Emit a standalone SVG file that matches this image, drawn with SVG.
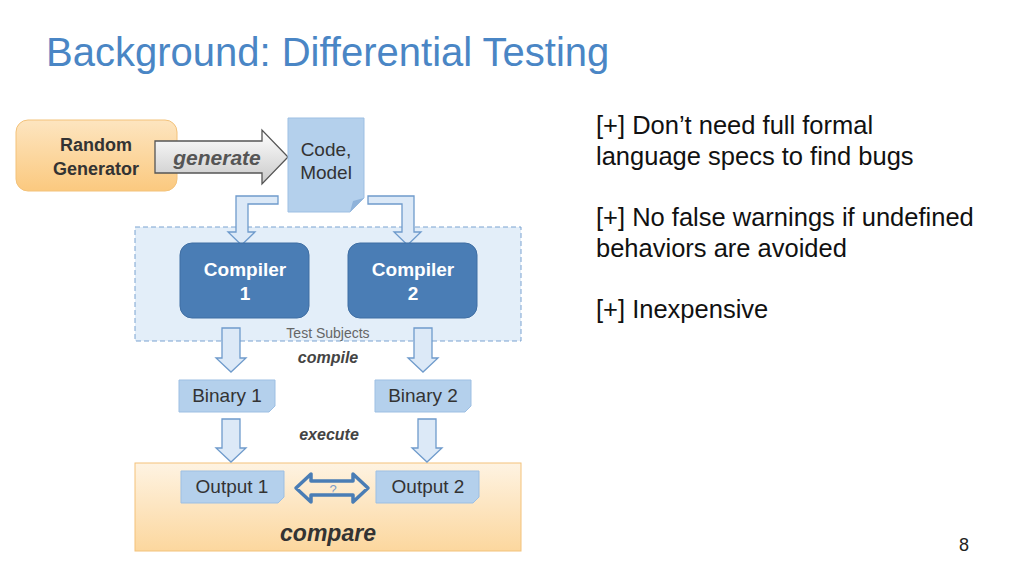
<svg xmlns="http://www.w3.org/2000/svg" width="1024" height="576" viewBox="0 0 1024 576">
<defs>
<linearGradient id="og" x1="0" y1="0" x2="0" y2="1"><stop offset="0" stop-color="#fde5c0"/><stop offset="1" stop-color="#fbc97f"/></linearGradient>
<linearGradient id="og2" x1="0" y1="0" x2="0" y2="1"><stop offset="0" stop-color="#fef3e2"/><stop offset="1" stop-color="#fcd79e"/></linearGradient>
<linearGradient id="gg" x1="0" y1="0" x2="0" y2="1"><stop offset="0" stop-color="#ffffff"/><stop offset="1" stop-color="#c9c9c9"/></linearGradient>
</defs>
<style>
text{font-family:"Liberation Sans",Arial,sans-serif}
.doc{fill:#b4d0ec;stroke:#9dbfe3;stroke-width:1}
.arr{fill:#dce9f7;stroke:#6f9bcc;stroke-width:1.3}
.cmp{fill:#4a7db5;stroke:#3f6ea3}
.dt{font-size:19px;fill:#333;text-anchor:middle}
.ct{font-size:19px;fill:#fff;font-weight:bold;text-anchor:middle}
.lb{font-size:16px;fill:#444;font-weight:bold;font-style:italic;text-anchor:middle}
.rt{font-size:25.5px;fill:#111}
</style>
<text x="46" y="66" font-size="40" fill="#4a86c5">Background: Differential Testing</text>
<g id="test-subjects"><rect x="135" y="227" width="386" height="114" fill="#e3eef9" stroke="#7aa3d1" stroke-dasharray="5,3"/><text x="328" y="338" font-size="14" fill="#666" text-anchor="middle">Test Subjects</text></g>
<g id="compare-box"><rect x="135" y="463" width="386" height="88" fill="url(#og2)" stroke="#f3c27a"/><text x="328" y="541" font-size="23" font-weight="bold" font-style="italic" fill="#333" text-anchor="middle">compare</text></g>
<g id="random-generator"><rect x="16" y="120" width="161" height="71" rx="12" fill="url(#og)" stroke="#f3c27a"/><text class="dt" x="96" y="151" font-weight="bold" style="font-size:18px">Random</text><text class="dt" x="96" y="175" font-weight="bold" style="font-size:18px">Generator</text></g>
<g id="connectors">
<path d="M155 141 H262 V130 L288 157 L262 184 V173 H155 Z" fill="url(#gg)" stroke="#555" stroke-width="1.3"/>
<path d="M278 196 V204 H248 V232 H255 L241.5 245 L228 232 H236 V196 Z" class="arr"/>
<path d="M368 196 H414 V232 H421 L407.5 245 L394 232 H402 V204 H368 Z" class="arr"/>
<path d="M222 328 H240 V358 H246 L231 372 L216 358 H222 Z" class="arr"/>
<path d="M414 328 H432 V358 H438 L423 372 L408 358 H414 Z" class="arr"/>
<path d="M222 419 H240 V448 H246 L231 462 L216 448 H222 Z" class="arr"/>
<path d="M418 419 H436 V448 H442 L427 462 L412 448 H418 Z" class="arr"/>
<path d="M296 488 L311 474 V481 H353 V474 L368 488 L353 502 V495 H311 V502 Z" fill="none" stroke="#4a7db5" stroke-width="3.5" stroke-linejoin="round"/>
<text x="333" y="494" font-size="13" fill="#7a9cc8" text-anchor="middle">?</text>
<text class="lb" x="217" y="165" style="font-size:21px;fill:#555">generate</text>
<text class="lb" x="328" y="363">compile</text>
<text class="lb" x="329" y="440">execute</text>
</g>
<g id="code-model"><path class="doc" d="M288 118 H364 V198 L350 212 H288 Z"/><path d="M350 212 L353 201 L364 198 Z" fill="#8fb3da"/><text class="dt" x="326" y="156">Code,</text><text class="dt" x="326" y="179">Model</text></g>
<g id="compiler-1"><rect class="cmp" x="180" y="243" width="129" height="75" rx="12"/><text class="ct" x="245" y="276">Compiler</text><text class="ct" x="245" y="300">1</text></g>
<g id="compiler-2"><rect class="cmp" x="348" y="243" width="129" height="75" rx="12"/><text class="ct" x="413" y="276">Compiler</text><text class="ct" x="413" y="300">2</text></g>
<g id="binary-1"><path class="doc" d="M179 380 H275 V406 L269 412 H179 Z"/><text class="dt" x="227" y="402">Binary 1</text></g>
<g id="binary-2"><path class="doc" d="M375 380 H471 V406 L465 412 H375 Z"/><text class="dt" x="423" y="402">Binary 2</text></g>
<g id="output-1"><path class="doc" d="M181 471 H284 V497 L278 503 H181 Z"/><text class="dt" x="232" y="493">Output 1</text></g>
<g id="output-2"><path class="doc" d="M376 471 H479 V497 L473 503 H376 Z"/><text class="dt" x="428" y="493">Output 2</text></g>
<text class="rt" x="596" y="134">[+] Don’t need full formal</text>
<text class="rt" x="596" y="165">language specs to find bugs</text>
<text class="rt" x="596" y="226">[+] No false warnings if undefined</text>
<text class="rt" x="596" y="257">behaviors are avoided</text>
<text class="rt" x="596" y="318">[+] Inexpensive</text>
<text x="964" y="551" font-size="18" fill="#222" text-anchor="middle">8</text>
</svg>
